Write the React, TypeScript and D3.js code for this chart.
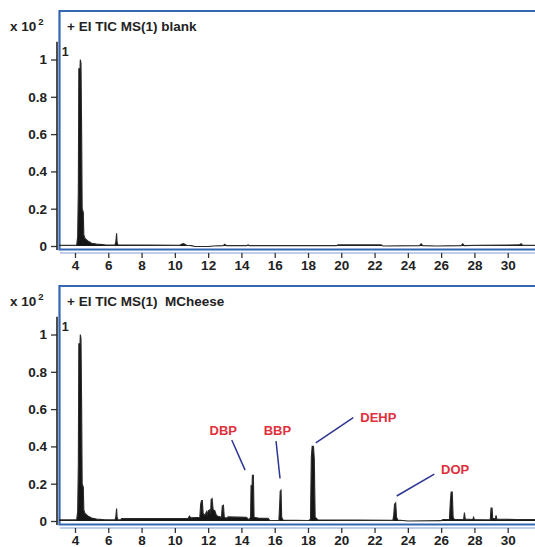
import { useEffect, useRef } from 'react';
import * as d3 from 'd3';

// retention time (min) ticks and abundance ticks (x 10^2)
const retentionTicks = [4, 6, 8, 10, 12, 14, 16, 18, 20, 22, 24, 26, 28, 30];
const abundanceTicks = [0, 0.2, 0.4, 0.6, 0.8, 1];

const panelTitles = ['+ EI TIC MS(1) blank', '+ EI TIC MS(1)  MCheese'];

// [retention time, abundance]
const blankTrace: [number, number][] = [
  [3.05, 0.004], [4.1, 0.004], [4.16, 0.05], [4.2, 0.3], [4.23, 0.95], [4.3, 0.95],
  [4.32, 1.0], [4.36, 0.98], [4.4, 0.6], [4.43, 0.2], [4.5, 0.18], [4.53, 0.06],
  [4.6, 0.04], [4.8, 0.025], [5.0, 0.015], [5.3, 0.01], [5.8, 0.006], [6.4, 0.005],
  [6.45, 0.02], [6.5, 0.068], [6.53, 0.02], [6.58, 0.006], [10.3, 0.004], [10.45, 0.012],
  [10.55, 0.012], [10.7, 0.004], [11.0, 0.002], [11.2, -0.003], [12.0, -0.003], [12.3, 0.0],
  [12.9, 0.002], [13.0, 0.01], [13.1, 0.002], [14.3, 0.002], [14.4, 0.006], [14.5, 0.002],
  [19.7, 0.002], [19.8, 0.006], [22.4, 0.006], [22.5, 0.0], [24.7, 0.002], [24.8, 0.012],
  [24.9, 0.002], [25.7, 0.0], [27.2, 0.002], [27.3, 0.012], [27.4, 0.002], [28.3, 0.004],
  [30.7, 0.006], [30.8, 0.012], [30.9, 0.004], [31.7, 0.004],
];

const cheeseTrace: [number, number][] = [
  [3.05, 0.006], [4.1, 0.006], [4.16, 0.05], [4.2, 0.3], [4.23, 0.95], [4.3, 0.95],
  [4.32, 1.0], [4.36, 0.98], [4.4, 0.6], [4.43, 0.2], [4.5, 0.18], [4.53, 0.06],
  [4.6, 0.04], [4.8, 0.025], [5.0, 0.016], [5.3, 0.01], [5.8, 0.007], [6.4, 0.006],
  [6.45, 0.02], [6.5, 0.067], [6.53, 0.02], [6.58, 0.006], [6.75, 0.006], [6.8, 0.013],
  [10.8, 0.014], [10.88, 0.027], [10.95, 0.017], [11.5, 0.02], [11.55, 0.09], [11.6, 0.11],
  [11.65, 0.11], [11.7, 0.04], [11.8, 0.03], [11.9, 0.05], [11.95, 0.03], [12.0, 0.055],
  [12.1, 0.06], [12.15, 0.04], [12.18, 0.115], [12.24, 0.12], [12.3, 0.06], [12.4, 0.055],
  [12.5, 0.03], [12.6, 0.025], [12.8, 0.02], [12.85, 0.08], [12.92, 0.084], [12.97, 0.02],
  [13.1, 0.015], [13.2, 0.022], [14.3, 0.02], [14.45, 0.006], [14.55, 0.02], [14.58, 0.19],
  [14.64, 0.19], [14.66, 0.245], [14.72, 0.245], [14.76, 0.02], [15.0, 0.016], [15.6, 0.015],
  [15.7, 0.003], [16.25, 0.003], [16.3, 0.09], [16.33, 0.16], [16.38, 0.165], [16.42, 0.02],
  [16.5, 0.005], [18.05, 0.003], [18.15, 0.01], [18.2, 0.34], [18.25, 0.4], [18.33, 0.4],
  [18.38, 0.33], [18.43, 0.02], [18.6, 0.006], [23.1, 0.004], [23.15, 0.03], [23.2, 0.09],
  [23.27, 0.097], [23.32, 0.02], [23.4, 0.005], [24.0, 0.0], [26.0, 0.002], [26.1, 0.008],
  [26.5, 0.008], [26.55, 0.1], [26.6, 0.155], [26.67, 0.155], [26.72, 0.02], [26.8, 0.008],
  [27.35, 0.008], [27.4, 0.045], [27.45, 0.01], [27.9, 0.008], [27.95, 0.02], [28.0, 0.008],
  [28.95, 0.006], [29.0, 0.07], [29.06, 0.07], [29.1, 0.015], [29.25, 0.01], [29.3, 0.03],
  [29.35, 0.01], [30.5, 0.008], [31.7, 0.008],
];

// phthalate annotations (cheese panel)
const phthalateNames = ['DBP', 'BBP', 'DEHP', 'DOP'];
const phthalateLabelAt: [number, number][] = [[12.91, 0.46], [16.16, 0.46], [22.23, 0.53], [26.84, 0.253]];
const phthalateLeaders: [number, number, number, number][] = [
  [13.42, 0.434, 14.22, 0.273],
  [16.08, 0.428, 16.32, 0.228],
  [20.72, 0.554, 18.47, 0.419],
  [25.59, 0.251, 23.33, 0.134],
];

const W = 535;
const H = 547;
const PANEL_SHIFT = 275;
const FONT = "'Liberation Sans', Arial, sans-serif";
const BLUE = '#3566b0';

function drawPanel(svg, dy, title, trace, withLabels) {
  const g = svg.append('g').attr('transform', `translate(0, ${dy})`);

  const x = d3.scaleLinear().domain([4, 30]).range([75, 507.7]);
  const y = d3.scaleLinear().domain([0, 1.095]).range([246, 41.8]);

  // frame
  g.append('path')
    .attr('d', `M${W + 2},11 H59.5 V249.5 H${W + 2}`)
    .attr('fill', 'none')
    .attr('stroke', BLUE)
    .attr('stroke-width', 2.2);
  g.append('line')
    .attr('x1', 60).attr('x2', W)
    .attr('y1', 253).attr('y2', 253)
    .attr('stroke', '#a9bde0')
    .attr('stroke-width', 1.5);

  // axes
  const xAxis = g
    .append('g')
    .attr('transform', 'translate(0, 253)')
    .call(d3.axisBottom(x).tickValues(retentionTicks).tickSize(5).tickPadding(2).tickSizeOuter(0));
  xAxis.select('.domain').remove();

  const yAxis = g
    .append('g')
    .attr('transform', 'translate(57, 0)')
    .call(
      d3
        .axisLeft(y)
        .tickValues(abundanceTicks)
        .tickSize(6)
        .tickPadding(4)
        .tickSizeOuter(0)
        .tickFormat((d) => (d === 0 ? '0' : d === 1 ? '1' : d3.format('.1f')(d))),
    );
  yAxis.select('.domain').remove();
  g.append('line')
    .attr('x1', 57).attr('x2', 57)
    .attr('y1', y(1.095)).attr('y2', 250)
    .attr('stroke', '#222')
    .attr('stroke-width', 1.6);

  [xAxis, yAxis].forEach((a) => {
    a.selectAll('line').attr('stroke', '#333').attr('stroke-width', 1.3);
    a.selectAll('text')
      .attr('font-family', FONT)
      .attr('font-weight', 'bold')
      .attr('font-size', 13.5)
      .attr('fill', '#222');
  });

  // trace
  const area = d3
    .area()
    .x((d) => x(d[0]))
    .y0(y(0))
    .y1((d) => y(d[1]));
  const line = d3
    .line()
    .x((d) => x(d[0]))
    .y((d) => y(d[1]));
  g.append('path').datum(trace).attr('d', area).attr('fill', '#151515');
  g.append('path')
    .datum(trace)
    .attr('d', line)
    .attr('fill', 'none')
    .attr('stroke', '#2a2a2a')
    .attr('stroke-width', 1.1);

  // texts
  const multiplier = g
    .append('text')
    .attr('x', 10)
    .attr('y', 31)
    .attr('font-family', FONT)
    .attr('font-weight', 'bold')
    .attr('font-size', 13.5)
    .attr('fill', '#222');
  multiplier.append('tspan').text('x 10');
  multiplier.append('tspan').attr('dy', -6).attr('dx', 2).attr('font-size', 9.5).text('2');

  g.append('text')
    .attr('x', 67)
    .attr('y', 31)
    .attr('font-family', FONT)
    .attr('font-weight', 'bold')
    .attr('font-size', 13.5)
    .attr('fill', '#222')
    .attr('xml:space', 'preserve')
    .text(title);

  g.append('text')
    .attr('x', x(3.2))
    .attr('y', y(1.04) + 4)
    .attr('font-family', FONT)
    .attr('font-weight', 'bold')
    .attr('font-size', 12.5)
    .attr('fill', '#222')
    .text('1');

  if (withLabels) {
    phthalateLeaders.forEach((l) => {
      g.append('line')
        .attr('x1', x(l[0])).attr('y1', y(l[1]))
        .attr('x2', x(l[2])).attr('y2', y(l[3]))
        .attr('stroke', '#2b3593')
        .attr('stroke-width', 1.5);
    });
    phthalateNames.forEach((name, i) => {
      g.append('text')
        .attr('x', x(phthalateLabelAt[i][0]))
        .attr('y', y(phthalateLabelAt[i][1]))
        .attr('text-anchor', 'middle')
        .attr('font-family', FONT)
        .attr('font-weight', 'bold')
        .attr('font-size', 13)
        .attr('fill', '#e0303c')
        .text(name);
    });
  }
}

export default function App() {
  const ref = useRef(null);

  useEffect(() => {
    const svg = d3.select(ref.current);
    svg.selectAll('*').remove();
    svg.append('rect').attr('width', W).attr('height', H).attr('fill', '#fff');
    drawPanel(svg, 0, panelTitles[0], blankTrace, false);
    drawPanel(svg, PANEL_SHIFT, panelTitles[1], cheeseTrace, true);
  }, []);

  return (
    <div style={{ position: 'absolute', left: 0, top: 0 }}>
      <svg ref={ref} width={W} height={H} style={{ display: 'block' }} />
    </div>
  );
}
